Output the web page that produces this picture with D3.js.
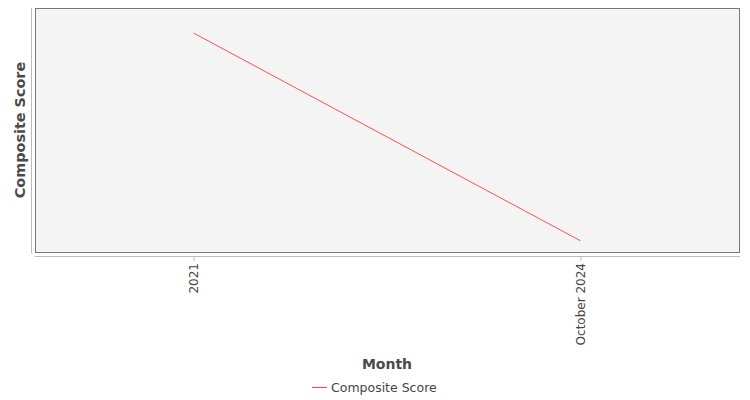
<html>
<head>
<meta charset="utf-8" />
<style>
  html, body { margin: 0; padding: 0; background: #fff; }
  svg { display: block; font-family: "DejaVu Sans", sans-serif; }
</style>
</head>
<body>
<div id="chart"></div>
<script src="https://cdnjs.cloudflare.com/ajax/libs/d3/7.8.5/d3.min.js"></script>
<script>
// data (no y ticks shown, so values are estimates)
var months = ["2021", "October 2024"];
var scores = [0.72, 0.48];
var yDomain = [0.467, 0.749];
var seriesName = "Composite Score";

var width = 750, height = 400;
var plot = {left: 35, right: 739, top: 8, bottom: 252};

var svg = d3.select("#chart").append("svg")
    .attr("width", width)
    .attr("height", height);

var x = d3.scalePoint()
    .domain(months)
    .range([plot.left, plot.right])
    .padding(0.41);

var y = d3.scaleLinear()
    .domain(yDomain)
    .range([plot.bottom, plot.top]);

// plot background
svg.append("rect")
    .attr("x", plot.left + 0.5)
    .attr("y", plot.top + 0.5)
    .attr("width", plot.right - plot.left)
    .attr("height", plot.bottom - plot.top)
    .attr("fill", "#f4f4f4")
    .attr("stroke", "#777")
    .attr("stroke-width", 1);

// y axis line, no ticks
svg.append("line")
    .attr("x1", 31.5).attr("x2", 31.5)
    .attr("y1", plot.top).attr("y2", plot.bottom + 1)
    .attr("stroke", "#bbb");

// x axis
var xAxis = svg.append("g")
    .attr("transform", "translate(0," + 256 + ")")
    .call(d3.axisBottom(x).tickSize(5).tickSizeOuter(0));
xAxis.select(".domain")
    .attr("d", "M" + plot.left + ",0.5H" + (plot.right + 1))
    .attr("stroke", "#bbb");
xAxis.selectAll(".tick line").attr("stroke", "#bbb");
xAxis.selectAll(".tick text")
    .attr("fill", "#444")
    .style("font-size", "12px")
    .style("font-family", "DejaVu Sans")
    .attr("transform", "rotate(-90)")
    .attr("text-anchor", "end")
    .attr("x", -7)
    .attr("y", 0)
    .attr("dy", "0.35em");

// line
var line = d3.line()
    .x(function(d, i) { return x(months[i]); })
    .y(function(d) { return y(d); });

svg.append("path")
    .datum(scores)
    .attr("d", line)
    .attr("fill", "none")
    .attr("stroke", "#ff5050")
    .attr("stroke-width", 1);

// axis titles
svg.append("text")
    .attr("x", (plot.left + plot.right) / 2)
    .attr("y", 369)
    .attr("text-anchor", "middle")
    .attr("fill", "#4a4a4a")
    .style("font-size", "14px")
    .style("font-weight", "bold")
    .text("Month");

svg.append("text")
    .attr("transform", "translate(25," + ((plot.top + plot.bottom) / 2) + ") rotate(-90)")
    .attr("text-anchor", "middle")
    .attr("fill", "#4a4a4a")
    .style("font-size", "14.4px")
    .style("font-weight", "bold")
    .text("Composite Score");

// legend
var legend = svg.append("g").attr("transform", "translate(312,387)");
legend.append("line")
    .attr("x1", 0).attr("x2", 15)
    .attr("y1", 0.5).attr("y2", 0.5)
    .attr("stroke", "#ff4040");
legend.append("text")
    .attr("x", 19)
    .attr("y", 0.5)
    .attr("dy", "0.35em")
    .attr("fill", "#444")
    .style("font-size", "12.5px")
    .text(seriesName);
</script>
</body>
</html>
